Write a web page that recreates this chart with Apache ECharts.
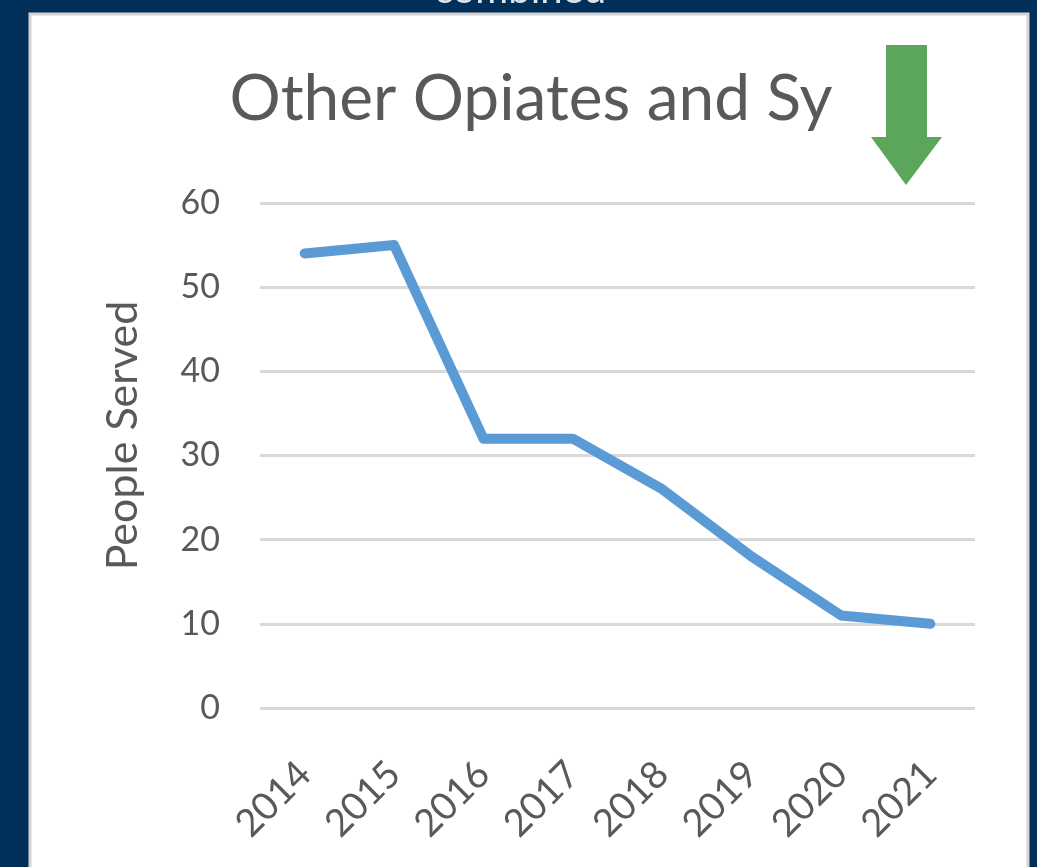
<!DOCTYPE html>
<html>
<head>
<meta charset="utf-8">
<script src="https://cdn.jsdelivr.net/npm/echarts@6/dist/echarts.min.js"></script>
<style>
html,body{margin:0;padding:0;background:#00305a;}
#chart{width:1037px;height:867px;}
</style>
</head>
<body>
<div id="chart"></div>
<script>
var years = ['2014','2015','2016','2017','2018','2019','2020','2021'];
var served = [54, 55, 32, 32, 26, 18, 11, 10];
var yTicks = [0, 10, 20, 30, 40, 50, 60];

var chart = echarts.init(document.getElementById('chart'));
var option = {
    backgroundColor: '#00305a',
    animation: false,
    graphic: [
        // white slide panel
        {type: 'rect', z: -10, shape: {x: 30, y: 14, width: 998, height: 860},
         style: {fill: '#ffffff', stroke: '#d4d4d4', lineWidth: 3}},
        // cut-off heading above the panel
        {type: 'text', z: -5, x: 520, y: 10,
         style: {text: 'combined', fill: '#dbe5f0', font: '40px Lato', textAlign: 'center', textVerticalAlign: 'bottom'}},
        {type: 'text', z: 5, x: 531, y: 131,
         style: {text: 'Other Opiates and Sy', fill: '#595959', font: '64px Lato', textAlign: 'center', textVerticalAlign: 'bottom'}},
        // green down arrow
        {type: 'polygon', z: 5,
         shape: {points: [[886,45],[927,45],[927,137],[942,137],[906,185],[871,137],[886,137]]},
         style: {fill: '#5ba65b'}}
    ],
    grid: {left: 260, right: 62, top: 203, bottom: 159},
    xAxis: {
        type: 'category',
        data: years,
        boundaryGap: true,
        axisLine: {show: false},
        axisTick: {show: false},
        axisLabel: {rotate: 45, margin: 60, color: '#595959', fontSize: 38, fontFamily: 'Lato'}
    },
    yAxis: {
        type: 'value',
        min: yTicks[0],
        max: yTicks[yTicks.length - 1],
        interval: 10,
        name: 'People Served',
        nameLocation: 'middle',
        nameGap: 115,
        nameTextStyle: {color: '#595959', fontSize: 43, fontFamily: 'Lato', padding: [0, 0, 0, 40]},
        axisLabel: {margin: 40, color: '#595959', fontSize: 34, fontFamily: 'Lato'},
        splitLine: {lineStyle: {color: '#d9d9d9', width: 3}}
    },
    series: [{
        type: 'line',
        data: served,
        symbol: 'none',
        lineStyle: {color: '#5b9bd5', width: 10, cap: 'round', join: 'round'}
    }]
};
chart.setOption(option);
</script>
</body>
</html>
